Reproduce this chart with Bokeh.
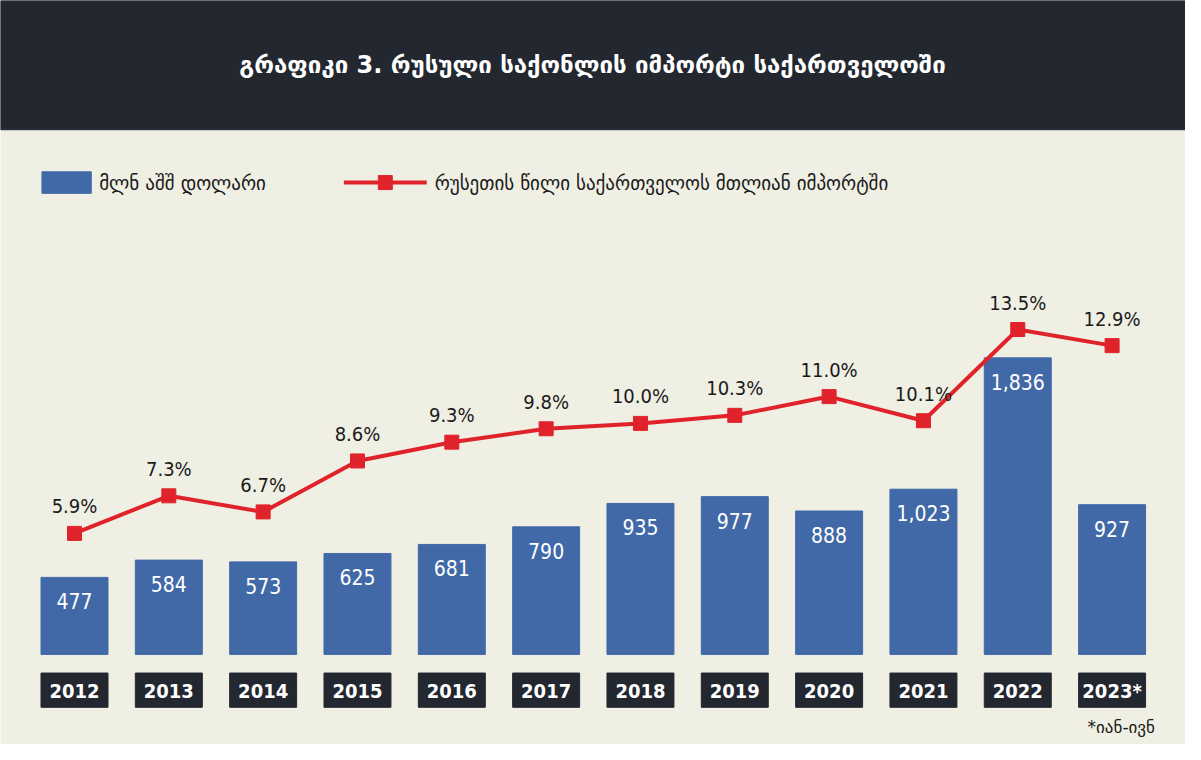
from bokeh.plotting import figure
from bokeh.models import Range1d, ColumnDataSource
from bokeh.core.properties import value
from bokeh.embed import file_html
from bokeh.resources import INLINE

years = ["2012","2013","2014","2015","2016","2017","2018","2019","2020","2021","2022","2023*"]
imports = [477,584,573,625,681,790,935,977,888,1023,1836,927]
share = [5.9,7.3,6.7,8.6,9.3,9.8,10.0,10.3,11.0,10.1,13.5,12.9]
title = "გრაფიკი 3. რუსული საქონლის იმპორტი საქართველოში"
leg1 = "მლნ აშშ დოლარი"
leg2 = "რუსეთის წილი საქართველოს  მთლიან იმპორტში"
note = "*იან-ივნ"

W, H = 1185, 744
sxk = W / 1201; syk = H / 760
BASE = 668; K = 0.165; P0 = 706; PK = 27.4
def sx(px): return (px - 75) / 95.6
def sy(py): return (BASE - py) / K
def sp(py): return (P0 - py) / PK

p = figure(width=W, height=H, output_backend="svg", toolbar_location=None,
           x_range=Range1d(sx(0), sx(1201)), y_range=Range1d(sy(760), sy(0)),
           min_border=0, background_fill_color="#f0efe4", border_fill_color="#f0efe4")
p.axis.visible = False
p.grid.visible = False
p.outline_line_color = None
p.extra_y_ranges = {"pct": Range1d(sp(760), sp(0))}

xs = list(range(len(years)))
src = ColumnDataSource(dict(x=xs, v=imports, s=share, y=years,
    vl=[f"{v:,}" for v in imports], sl=[f"{s:.1f}%" for s in share]))

p.quad(left=sx(0), right=sx(1201), bottom=sy(132), top=sy(0), color="#23272f")
p.text(x=[sx(600)], y=[sy(66)], text=[title], text_color="white", text_font=value("DejaVu Sans"),
       text_font_style="bold", text_font_size="24px", text_align="center", text_baseline="middle")

p.vbar(x="x", top="v", bottom=0, width=0.71, color="#4169a8", source=src)
p.text(x="x", y="v", text="vl", y_offset=24, text_color="white", text_font=value("DejaVu Sans Condensed"),
       text_font_size="21px", text_align="center", text_baseline="middle", source=src)

p.line(x="x", y="s", y_range_name="pct", color="#e0232b", line_width=4, source=src)
p.scatter(x="x", y="s", y_range_name="pct", marker="square", size=14, color="#e0232b", source=src)
p.text(x="x", y="s", y_range_name="pct", text="sl", y_offset=-27, text_color="#1a1a1a",
       text_font=value("DejaVu Sans Condensed"), text_font_size="20px", text_align="center",
       text_baseline="middle", source=src)

p.rect(x="x", y=sy(704.5), width=0.71, height=35/K, color="#23272f", source=src)
p.text(x="x", y=sy(705), text="y", text_color="white", text_font=value("DejaVu Sans Condensed"),
       text_font_style="bold", text_font_size="20px", text_align="center", text_baseline="middle", source=src)
p.text(x=[sx(1170)], y=[sy(742)], text=[note], text_color="#1a1a1a", text_font=value("DejaVu Sans"),
       text_font_size="17px", text_align="right", text_baseline="middle")

p.rect(x=[sx(67)], y=[sy(186)], width=50/95.6, height=22/K, color="#4169a8")
p.text(x=[sx(100)], y=[sy(186)], text=[leg1], text_color="#1a1a1a", text_font=value("DejaVu Sans"),
       text_font_size="19px", text_baseline="middle")
p.line(x=[sx(348), sx(432)], y=[sy(186)]*2, color="#e0232b", line_width=4)
p.scatter(x=[sx(390)], y=[sy(186)], marker="square", size=14, color="#e0232b")
p.text(x=[sx(440)], y=[sy(186)], text=[leg2], text_color="#1a1a1a", text_font=value("DejaVu Sans"),
       text_font_size="19px", text_baseline="middle")

open("out.html", "w").write(file_html(p, INLINE))
